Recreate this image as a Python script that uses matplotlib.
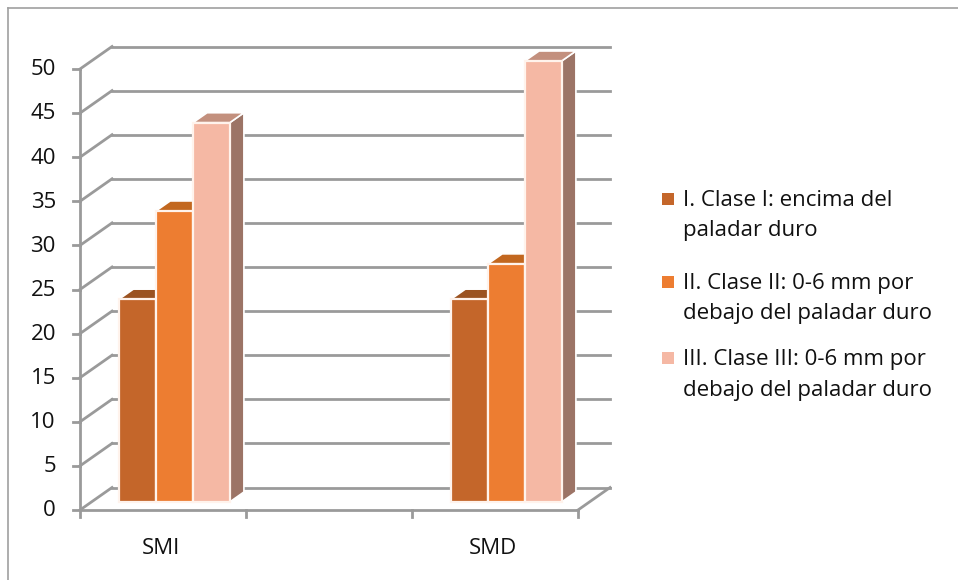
import numpy as np
import matplotlib.pyplot as plt
from matplotlib.patches import Polygon

plt.rcParams['font.family'] = ['Open Sans', 'DejaVu Sans']

# datos del grafico
categorias = ["SMI", "", "SMD"]
series = ["I. Clase I: encima del\npaladar duro",
          "II. Clase II: 0-6 mm por\ndebajo del paladar duro",
          "III. Clase III: 0-6 mm por\ndebajo del paladar duro"]
clase1 = [23, np.nan, 23]
clase2 = [33, np.nan, 27]
clase3 = [43, np.nan, 50]
ticks_y = list(range(0, 55, 5))

colores = ["#C4662A", "#ED7D31", "#F5B8A4"]
techos = ["#9B5220", "#C2671F", "#C3907E"]
lados = ["#8A4A1E", "#B05D1C", "#9C7466"]

# geometria del "3D": profundidad en unidades de categoria / valor
DX, DY = 0.193, 2.55
F0, F1 = 0.36, 0.80     # fraccion de profundidad ocupada por las barras
ANCHO = 0.222           # ancho de cada barra (incluye separacion)
GRIS = "#9A9A9A"
FS = 16

fig = plt.figure(figsize=(9.58, 5.8), dpi=100)
ax = fig.add_axes([0, 0, 1, 1])
# escala: x en categorias (166 px c/u, origen en px 80), y en valor (8.82 px c/u, cero en px 510)
ax.set_xlim(-80 / 166, (958 - 80) / 166)
ax.set_ylim(-(580 - 510) / 8.82, 510 / 8.82)
ax.axis("off")

# marco exterior
fig.add_artist(plt.Line2D([8 / 958, 8 / 958], [0, 1 - 8 / 580], color="#A0A0A0", lw=1.2))
fig.add_artist(plt.Line2D([8 / 958, 1], [1 - 8 / 580, 1 - 8 / 580], color="#A0A0A0", lw=1.2))

ncat = len(categorias)

# lineas de division: pared del fondo y pared izquierda
for v in ticks_y:
    ax.plot([DX, ncat + DX], [v + DY, v + DY], color=GRIS, lw=2, zorder=1)
    ax.plot([0, DX], [v, v + DY], color=GRIS, lw=2, zorder=1)
    ax.plot([-0.042, 0], [v, v], color=GRIS, lw=2, zorder=1)
    ax.text(-0.145, v - 0.1, str(v), ha="right", va="center", fontsize=FS, color="#111111")

# piso y eje vertical
ax.plot([0, ncat], [0, 0], color=GRIS, lw=2, zorder=1)
ax.plot([ncat, ncat + DX], [0, DY], color=GRIS, lw=2, zorder=1)
ax.plot([0, 0], [0, ticks_y[-1]], color=GRIS, lw=2, zorder=1)
for i in range(ncat + 1):
    ax.plot([i, i], [0, -0.8], color=GRIS, lw=2, zorder=1)
for i, c in enumerate(categorias):
    ax.text(i + 0.5 - 0.01, -4.4, c, ha="center", va="center", fontsize=FS, color="#111111")

# barras con cara frontal, lateral y superior
valores = [clase1, clase2, clase3]
z = 2
for i in range(ncat):
    x0 = i + 0.5 - 1.5 * ANCHO
    for s, vals in enumerate(valores):
        h = vals[i]
        if np.isnan(h):
            continue
        a = x0 + s * ANCHO
        b = a + ANCHO
        fx, fy = F0 * DX, F0 * DY
        bx, by = F1 * DX, F1 * DY
        frente = [(a + fx, fy), (b + fx, fy), (b + fx, h + fy), (a + fx, h + fy)]
        lado = [(b + fx, fy), (b + bx, by), (b + bx, h + by), (b + fx, h + fy)]
        techo = [(a + fx, h + fy), (b + fx, h + fy), (b + bx, h + by), (a + bx, h + by)]
        ax.add_patch(Polygon(lado, closed=True, fc=lados[s], ec="white", lw=1.2, zorder=z))
        ax.add_patch(Polygon(techo, closed=True, fc=techos[s], ec="white", lw=1.2, zorder=z))
        ax.add_patch(Polygon(frente, closed=True, fc=colores[s], ec="#FFF3EC", lw=1.6, zorder=z + 1))
        z += 2

# leyenda (centro de cada bloque de dos lineas)
ys = [33.4, 24.0, 15.3]
for s, nombre in enumerate(series):
    xs = (662 - 80) / 166
    ax.add_patch(plt.Rectangle((xs, ys[s] + 1.2), 12 / 166, 12 / 8.82, fc=colores[s], ec="none"))
    ax.text((683 - 80) / 166, ys[s], nombre, ha="left", va="center",
            fontsize=FS, color="#111111", linespacing=1.6)

fig.savefig("out.png", dpi=100)
